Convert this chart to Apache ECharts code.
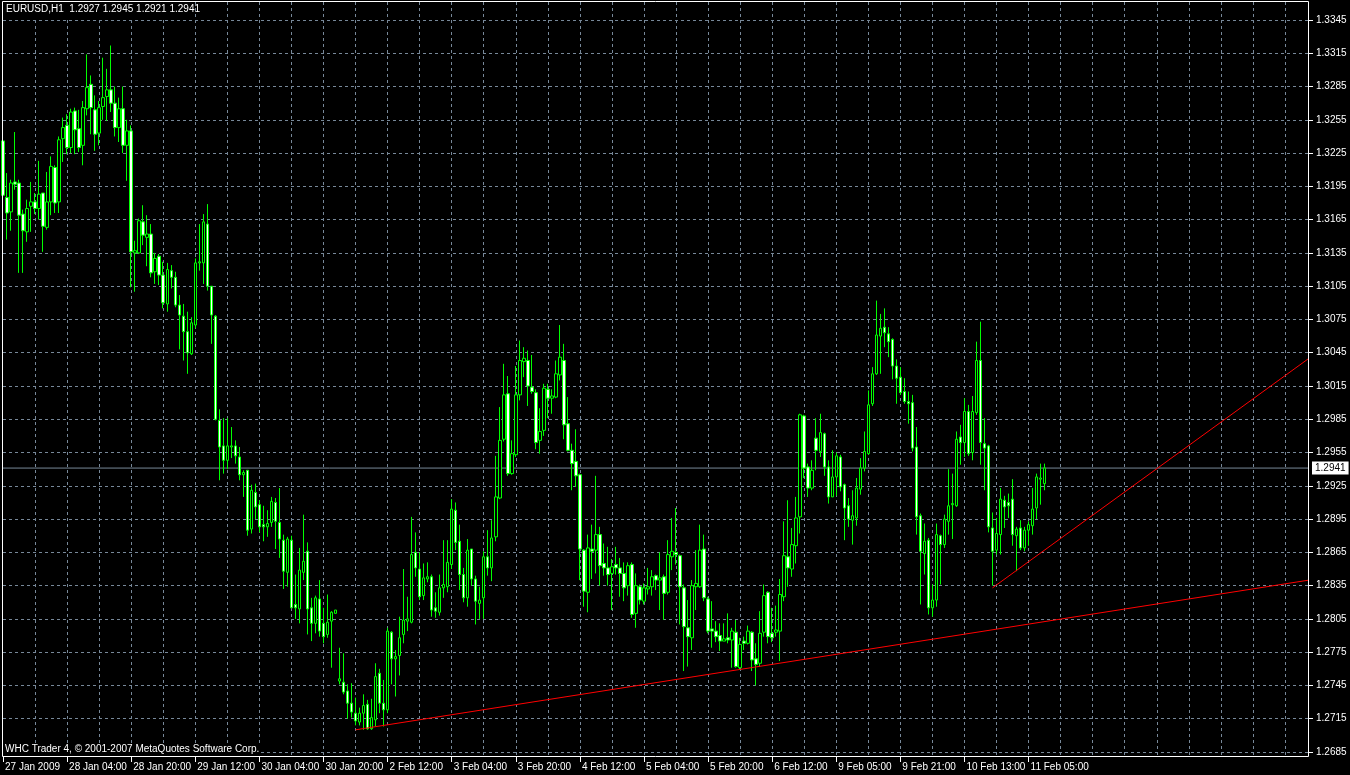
<!DOCTYPE html>
<html><head><meta charset="utf-8">
<script src="https://cdn.jsdelivr.net/npm/echarts@6/dist/echarts.min.js"></script>
<style>html,body{margin:0;padding:0;background:#000;}#c{width:1350px;height:775px;}</style>
</head><body><div id="c"></div>
<script>
// ---- text ----
const headerText = 'EURUSD,H1  1.2927 1.2945 1.2921 1.2941';
const footerText = 'WHC Trader 4, \u00A9 2001-2007 MetaQuotes Software Corp.';
// ---- x axis: one tick label every 16 hourly bars ----
const xTickLabels = ['27 Jan 2009','28 Jan 04:00','28 Jan 20:00','29 Jan 12:00','30 Jan 04:00','30 Jan 20:00',
  '2 Feb 12:00','3 Feb 04:00','3 Feb 20:00','4 Feb 12:00','5 Feb 04:00','5 Feb 20:00','6 Feb 12:00',
  '9 Feb 05:00','9 Feb 21:00','10 Feb 13:00','11 Feb 05:00'];
const totalSlots = 327; // bar slots across the chart (data + empty right margin)
// ---- y axis ----
const yMin = 1.2685, yMax = 1.3345, yStep = 0.003;
// ---- OHLC (H1 bars) ----
const opens = [
1.3236,1.3185,1.3172,1.3199,1.3198,1.3170,1.3154,1.3177,1.3181,1.3175,
1.3189,1.3158,1.3181,1.3212,1.3181,1.3238,1.3250,1.3230,1.3263,1.3247,
1.3232,1.3265,1.3287,1.3264,1.3243,1.3267,1.3276,1.3282,1.3270,1.3248,
1.3265,1.3232,1.3245,1.3135,1.3135,1.3163,1.3149,1.3152,1.3118,1.3132,
1.3115,1.3089,1.3119,1.3113,1.3088,1.3078,1.3064,1.3044,1.3070,1.3126,
1.3126,1.3161,1.3105,1.3078,1.2984,1.2961,1.2948,1.2960,1.2961,1.2951,
1.2935,1.2939,1.2886,1.2919,1.2908,1.2890,1.2888,1.2892,1.2910,1.2892,
1.2876,1.2847,1.2876,1.2818,1.2814,1.2847,1.2866,1.2815,1.2801,1.2823,
1.2801,1.2791,1.2803,1.2810,1.2749,1.2748,1.2740,1.2729,1.2720,1.2712,
1.2720,1.2728,1.2706,1.2714,1.2756,1.2729,1.2723,1.2793,1.2769,1.2772,
1.2791,1.2803,1.2802,1.2865,1.2850,1.2826,1.2841,1.2843,1.2815,1.2811,
1.2833,1.2834,1.2854,1.2903,1.2875,1.2845,1.2824,1.2868,1.2841,1.2819,
1.2824,1.2861,1.2851,1.2879,1.2914,1.2967,1.3008,1.2936,1.2953,1.3007,
1.3037,1.3038,1.3014,1.3009,1.2966,1.2975,1.3012,1.3004,1.3005,1.3025,
1.3038,1.2981,1.2957,1.2947,1.2935,1.2867,1.2829,1.2868,1.2867,1.2881,
1.2855,1.2851,1.2846,1.2854,1.2851,1.2846,1.2835,1.2854,1.2810,1.2834,
1.2821,1.2832,1.2834,1.2844,1.2840,1.2843,1.2829,1.2861,1.2865,1.2862,
1.2833,1.2797,1.2788,1.2834,1.2834,1.2868,1.2823,1.2796,1.2794,1.2790,
1.2785,1.2788,1.2786,1.2793,1.2761,1.2785,1.2783,1.2793,1.2769,1.2765,
1.2793,1.2829,1.2792,1.2793,1.2794,1.2825,1.2861,1.2850,1.2871,1.2897,
1.2988,1.2942,1.2923,1.2968,1.2956,1.2972,1.2942,1.2915,1.2933,1.2951,
1.2926,1.2907,1.2894,1.2896,1.2922,1.2941,1.2954,1.2999,1.3026,1.3060,
1.3068,1.3062,1.3057,1.3033,1.3023,1.3010,1.3001,1.3000,1.2960,1.2898,
1.2864,1.2876,1.2815,1.2822,1.2880,1.2872,1.2893,1.2908,1.2907,1.2969,
1.2964,1.2992,1.2955,1.2991,1.3038,1.2963,1.2961,1.2887,1.2867,1.2881,
1.2912,1.2910,1.2913,1.2880,1.2887,1.2869,1.2885,1.2889,1.2905,1.2931,
1.2927];
const highs = [
1.3262,1.3207,1.3201,1.3244,1.3201,1.3174,1.3183,1.3199,1.3189,1.3218,
1.3189,1.3208,1.3222,1.3214,1.3240,1.3257,1.3260,1.3265,1.3266,1.3264,
1.3272,1.3314,1.3295,1.3277,1.3272,1.3311,1.3301,1.3322,1.3285,1.3275,
1.3285,1.3255,1.3250,1.3146,1.3166,1.3178,1.3169,1.3161,1.3135,1.3134,
1.3127,1.3126,1.3124,1.3118,1.3097,1.3089,1.3082,1.3077,1.3130,1.3161,
1.3170,1.3179,1.3105,1.3079,1.2994,1.2986,1.2986,1.2978,1.2966,1.2960,
1.2939,1.2939,1.2926,1.2927,1.2912,1.2907,1.2903,1.2915,1.2914,1.2923,
1.2881,1.2879,1.2880,1.2845,1.2869,1.2899,1.2874,1.2824,1.2826,1.2840,
1.2815,1.2827,1.2812,1.2813,1.2779,1.2774,1.2746,1.2747,1.2734,1.2725,
1.2737,1.2732,1.2733,1.2765,1.2760,1.2750,1.2797,1.2794,1.2777,1.2807,
1.2850,1.2825,1.2897,1.2883,1.2865,1.2855,1.2856,1.2845,1.2829,1.2845,
1.2876,1.2876,1.2913,1.2910,1.2890,1.2851,1.2877,1.2868,1.2844,1.2834,
1.2866,1.2885,1.2894,1.2952,1.2996,1.3035,1.3024,1.2966,1.3033,1.3056,
1.3050,1.3047,1.3043,1.3012,1.2995,1.3017,1.3017,1.3012,1.3038,1.3070,
1.3053,1.3005,1.2963,1.2976,1.2936,1.2868,1.2881,1.2890,1.2934,1.2888,
1.2873,1.2870,1.2859,1.2870,1.2860,1.2856,1.2856,1.2856,1.2846,1.2836,
1.2837,1.2851,1.2849,1.2845,1.2865,1.2845,1.2876,1.2896,1.2905,1.2863,
1.2836,1.2822,1.2840,1.2867,1.2890,1.2881,1.2825,1.2821,1.2803,1.2801,
1.2801,1.2810,1.2797,1.2804,1.2788,1.2789,1.2799,1.2794,1.2783,1.2812,
1.2836,1.2830,1.2815,1.2817,1.2841,1.2893,1.2912,1.2887,1.2915,1.2990,
1.2989,1.2945,1.2948,1.2986,1.2990,1.2973,1.2948,1.2957,1.2955,1.2953,
1.2927,1.2914,1.2921,1.2932,1.2950,1.2974,1.3011,1.3032,1.3092,1.3080,
1.3085,1.3068,1.3058,1.3039,1.3032,1.3022,1.3010,1.3007,1.2978,1.2900,
1.2891,1.2878,1.2836,1.2891,1.2881,1.2899,1.2940,1.2936,1.2974,1.2980,
1.3004,1.2998,1.3006,1.3055,1.3073,1.2986,1.2962,1.2901,1.2896,1.2923,
1.2916,1.2918,1.2931,1.2888,1.2894,1.2888,1.2893,1.2923,1.2936,1.2945,
1.2945];
const lows = [
1.3180,1.3147,1.3155,1.3192,1.3117,1.3117,1.3145,1.3154,1.3170,1.3165,
1.3136,1.3156,1.3169,1.3171,1.3171,1.3217,1.3224,1.3225,1.3224,1.3226,
1.3214,1.3259,1.3242,1.3227,1.3232,1.3255,1.3254,1.3262,1.3240,1.3235,
1.3225,1.3200,1.3104,1.3100,1.3134,1.3142,1.3123,1.3113,1.3107,1.3106,
1.3085,1.3082,1.3103,1.3086,1.3048,1.3038,1.3026,1.3043,1.3067,1.3119,
1.3107,1.3101,1.3053,1.2984,1.2930,1.2936,1.2940,1.2950,1.2945,1.2930,
1.2915,1.2880,1.2882,1.2895,1.2883,1.2875,1.2879,1.2888,1.2868,1.2860,
1.2832,1.2834,1.2815,1.2805,1.2801,1.2840,1.2791,1.2785,1.2792,1.2789,
1.2783,1.2788,1.2761,1.2810,1.2746,1.2737,1.2715,1.2716,1.2709,1.2709,
1.2705,1.2705,1.2705,1.2708,1.2720,1.2708,1.2720,1.2746,1.2735,1.2754,
1.2783,1.2794,1.2801,1.2843,1.2822,1.2822,1.2838,1.2807,1.2806,1.2808,
1.2824,1.2829,1.2850,1.2867,1.2831,1.2820,1.2816,1.2835,1.2800,1.2805,
1.2805,1.2844,1.2839,1.2875,1.2913,1.2965,1.2934,1.2935,1.2951,1.3002,
1.3023,1.2997,1.3008,1.2958,1.2954,1.2970,1.2986,1.2990,1.3004,1.3020,
1.2967,1.2956,1.2921,1.2924,1.2840,1.2816,1.2811,1.2841,1.2846,1.2835,
1.2844,1.2835,1.2813,1.2845,1.2825,1.2821,1.2826,1.2806,1.2797,1.2818,
1.2818,1.2827,1.2826,1.2831,1.2813,1.2804,1.2827,1.2849,1.2854,1.2800,
1.2758,1.2762,1.2777,1.2813,1.2833,1.2821,1.2792,1.2779,1.2784,1.2776,
1.2785,1.2783,1.2761,1.2761,1.2759,1.2777,1.2782,1.2758,1.2745,1.2762,
1.2789,1.2783,1.2784,1.2789,1.2767,1.2821,1.2834,1.2843,1.2855,1.2882,
1.2932,1.2915,1.2921,1.2939,1.2951,1.2934,1.2909,1.2915,1.2916,1.2920,
1.2876,1.2888,1.2872,1.2889,1.2917,1.2938,1.2953,1.2997,1.3025,1.3026,
1.3050,1.3041,1.3021,1.2999,1.3007,1.2999,1.2981,1.2956,1.2881,1.2818,
1.2845,1.2809,1.2807,1.2816,1.2836,1.2869,1.2881,1.2877,1.2906,1.2944,
1.2951,1.2952,1.2948,1.2989,1.2944,1.2921,1.2883,1.2835,1.2863,1.2863,
1.2887,1.2896,1.2871,1.2848,1.2867,1.2866,1.2871,1.2881,1.2895,1.2908,
1.2921];
const closes = [
1.3187,1.3171,1.3198,1.3197,1.3169,1.3155,1.3175,1.3181,1.3175,1.3188,
1.3159,1.3181,1.3213,1.3180,1.3237,1.3248,1.3230,1.3262,1.3246,1.3230,
1.3266,1.3284,1.3266,1.3242,1.3266,1.3275,1.3282,1.3270,1.3248,1.3265,
1.3232,1.3245,1.3136,1.3137,1.3164,1.3151,1.3152,1.3117,1.3130,1.3115,
1.3090,1.3120,1.3113,1.3088,1.3079,1.3064,1.3045,1.3072,1.3126,1.3127,
1.3163,1.3105,1.3079,1.2985,1.2960,1.2948,1.2961,1.2961,1.2952,1.2935,
1.2937,1.2885,1.2921,1.2906,1.2888,1.2888,1.2891,1.2911,1.2893,1.2877,
1.2848,1.2877,1.2815,1.2815,1.2849,1.2857,1.2814,1.2801,1.2824,1.2794,
1.2789,1.2802,1.2811,1.2813,1.2751,1.2739,1.2729,1.2721,1.2713,1.2720,
1.2727,1.2706,1.2716,1.2753,1.2729,1.2723,1.2794,1.2769,1.2771,1.2788,
1.2804,1.2805,1.2863,1.2851,1.2825,1.2842,1.2843,1.2813,1.2812,1.2833,
1.2836,1.2856,1.2904,1.2874,1.2845,1.2824,1.2867,1.2841,1.2821,1.2822,
1.2861,1.2851,1.2878,1.2915,1.2966,1.3007,1.2936,1.2954,1.3007,1.3038,
1.3040,1.3015,1.3010,1.2964,1.2974,1.3013,1.3004,1.3006,1.3026,1.3041,
1.2980,1.2957,1.2945,1.2934,1.2868,1.2830,1.2869,1.2866,1.2881,1.2853,
1.2851,1.2845,1.2852,1.2851,1.2846,1.2833,1.2853,1.2809,1.2835,1.2822,
1.2833,1.2834,1.2843,1.2840,1.2842,1.2828,1.2863,1.2866,1.2863,1.2834,
1.2798,1.2789,1.2835,1.2837,1.2867,1.2824,1.2794,1.2794,1.2789,1.2785,
1.2787,1.2786,1.2794,1.2762,1.2782,1.2783,1.2794,1.2768,1.2764,1.2792,
1.2826,1.2789,1.2788,1.2795,1.2827,1.2862,1.2851,1.2872,1.2896,1.2989,
1.2941,1.2923,1.2939,1.2957,1.2973,1.2942,1.2915,1.2933,1.2952,1.2924,
1.2905,1.2895,1.2898,1.2923,1.2941,1.2956,1.2998,1.3026,1.3061,1.3067,
1.3063,1.3055,1.3033,1.3022,1.3009,1.3001,1.2999,1.2959,1.2897,1.2866,
1.2875,1.2815,1.2822,1.2881,1.2872,1.2895,1.2907,1.2909,1.2967,1.2964,
1.2992,1.2954,1.2992,1.3038,1.2964,1.2959,1.2888,1.2866,1.2882,1.2913,
1.2906,1.2907,1.2881,1.2886,1.2869,1.2885,1.2890,1.2904,1.2933,1.2932,
1.2941];
// ---- overlays ----
const bidPrice = 1.2941;
const trendLine1 = [[88, 1.2705], [326, 1.2840]];   // [bar slot, price]
const trendLine2 = [[247, 1.2833], [326, 1.3040]];

// ---- build ----
const categories = Array.from({length: totalSlots}, (_, i) => String(i));
const candleData = opens.map((o, i) => [o, closes[i], lows[i], highs[i]]);
const bidLineData = [[0, bidPrice], [totalSlots - 1, bidPrice]];

const FONT = 'Liberation Sans';
const GRIDC = '#778899';
const chart = echarts.init(document.getElementById('c'), null, {renderer: 'canvas'});
chart.setOption({
  backgroundColor: '#000000',
  animation: false,
  grid: [
    {left: 3, right: 41, top: 20, bottom: 23},
    {left: 3, right: 41, top: 2, bottom: 18}
  ],
  xAxis: [
    {gridIndex: 0, type: 'category', data: categories, boundaryGap: false, show: false},
    {gridIndex: 1, type: 'category', data: categories, boundaryGap: false,
      axisLine: {show: false},
      axisTick: {show: true, interval: (i) => i % 16 === 0 && i / 16 < xTickLabels.length, length: 5,
        lineStyle: {color: '#ffffff', width: 1}},
      axisLabel: {show: true, interval: (i) => i % 16 === 0 && i / 16 < xTickLabels.length,
        formatter: (v, i) => xTickLabels[Math.round(i / 16)] || '',
        color: '#ffffff', fontSize: 10, fontFamily: FONT, align: 'left', margin: 5, padding: [0, 0, 0, 2]},
      splitLine: {show: true, interval: (i) => i % 8 === 0 && i > 0,
        lineStyle: {color: GRIDC, type: [3, 3], width: 1}}
    }
  ],
  yAxis: [
    {gridIndex: 0, type: 'value', position: 'right', min: yMin, max: yMax, interval: yStep,
      axisLine: {show: false},
      axisTick: {show: true, length: 4, lineStyle: {color: '#ffffff'}},
      axisLabel: {color: '#ffffff', fontSize: 10, fontFamily: FONT, margin: 7,
        formatter: (v) => v.toFixed(4)},
      splitLine: {show: true, lineStyle: {color: GRIDC, type: [3, 3], width: 1}}
    },
    {gridIndex: 1, type: 'value', min: 0, max: 1, show: false}
  ],
  series: [
    {type: 'line', xAxisIndex: 0, yAxisIndex: 0, data: bidLineData, symbol: 'none', silent: true, z: 1,
      lineStyle: {color: GRIDC, width: 1},
      endLabel: {show: true, formatter: () => bidPrice.toFixed(4), color: '#000000',
        backgroundColor: '#ffffff', padding: [2, 3, 1, 3], fontSize: 10, fontFamily: FONT, distance: 3}
    },
    {type: 'candlestick', xAxisIndex: 0, yAxisIndex: 0, data: candleData, z: 3,
      barWidth: 3, clip: false, silent: true,
      itemStyle: {color: '#000000', color0: '#ffffff', borderColor: '#00ff00', borderColor0: '#00ff00', borderWidth: 1}
    },
    {type: 'line', xAxisIndex: 0, yAxisIndex: 0, data: trendLine1, symbol: 'none', silent: true, z: 4,
      lineStyle: {color: '#ff0000', width: 1}},
    {type: 'line', xAxisIndex: 0, yAxisIndex: 0, data: trendLine2, symbol: 'none', silent: true, z: 4,
      lineStyle: {color: '#ff0000', width: 1}}
  ],
  graphic: [
    {type: 'rect', z: 100, shape: {x: 2.5, y: 1.5, width: 1306, height: 755},
      style: {fill: null, stroke: '#ffffff', lineWidth: 1}},
    {type: 'rect', z: 90, shape: {x: 3, y: 2, width: 190, height: 15}, style: {fill: '#000000'}},
    {type: 'text', z: 95, left: 6, top: 4,
      style: {text: headerText, fill: '#ffffff', font: '10px "Liberation Sans"'}},
    {type: 'rect', z: 90, shape: {x: 3, y: 743, width: 258, height: 13}, style: {fill: '#000000'}},
    {type: 'text', z: 95, left: 5, top: 744,
      style: {text: footerText, fill: '#ffffff', font: '10px "Liberation Sans"'}}
  ]
});
</script>
</body></html>
